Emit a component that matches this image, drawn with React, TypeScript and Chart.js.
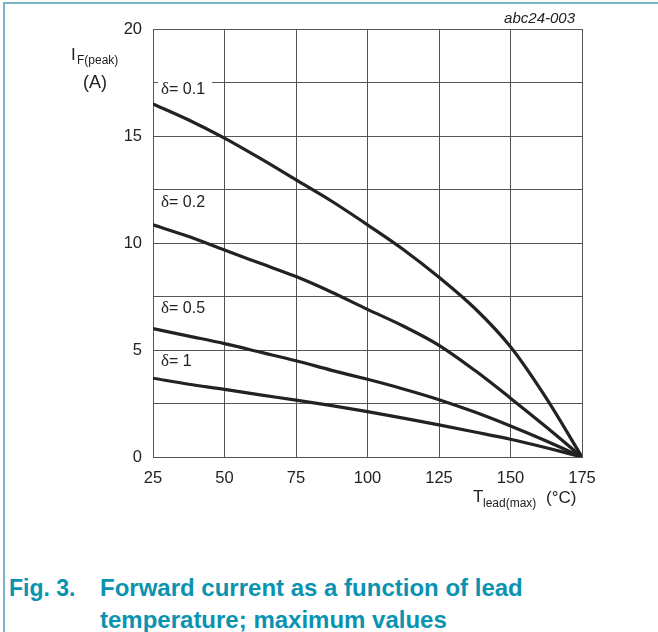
import React, { useEffect, useRef } from "react";
import { Chart, registerables } from "chart.js";

Chart.register(...registerables);

const temps = [25, 37.5, 50, 62.5, 75, 87.5, 100, 112.5, 125, 137.5, 150, 162.5, 175];
const delta01 = [16.5, 15.75, 14.9, 13.95, 12.95, 11.95, 10.85, 9.7, 8.4, 6.95, 5.15, 2.75, 0];
const delta02 = [10.85, 10.3, 9.67, 9.05, 8.43, 7.7, 6.9, 6.12, 5.22, 4.05, 2.75, 1.4, 0];
const delta05 = [6.0, 5.65, 5.3, 4.9, 4.5, 4.05, 3.63, 3.18, 2.68, 2.1, 1.45, 0.75, 0];
const delta1 = [3.68, 3.4, 3.16, 2.9, 2.66, 2.4, 2.12, 1.82, 1.5, 1.17, 0.83, 0.43, 0];

const seriesLabels = ["δ= 0.1", "δ= 0.2", "δ= 0.5", "δ= 1"];
const labelAnchorY = [17.2, 11.95, 7.0, 4.5];
const labelAnchorX = 25;

const xTicks = [25, 50, 75, 100, 125, 150, 175];
const yTicks = [0, 5, 10, 15, 20];

const FONT = '"Liberation Sans", Arial, Helvetica, sans-serif';
const SERIF = '"Liberation Serif", "Times New Roman", serif';
const TEXT = "#222";

const overlayPlugin = {
  id: "overlayText",
  afterDraw(chart: any) {
    const ctx = chart.ctx;
    const xs = chart.scales.x;
    const ys = chart.scales.y;
    ctx.save();
    ctx.fillStyle = TEXT;
    ctx.textBaseline = "alphabetic";

    // y axis title
    ctx.textAlign = "left";
    ctx.font = `17px ${FONT}`;
    ctx.fillText("I", 71, 60);
    ctx.font = `12px ${FONT}`;
    ctx.fillText("F(peak)", 77, 64);
    ctx.font = `18px ${FONT}`;
    ctx.textAlign = "center";
    ctx.fillText("(A)", 95, 88);

    // x axis title
    ctx.textAlign = "left";
    ctx.font = `17px ${FONT}`;
    ctx.fillText("T", 473, 502);
    ctx.font = `12px ${FONT}`;
    ctx.fillText("lead(max)", 483, 507);
    ctx.font = `17px ${FONT}`;
    ctx.fillText("(°C)", 546, 503);

    // figure id
    ctx.textAlign = "right";
    ctx.font = `italic 15px ${FONT}`;
    ctx.fillText("abc24-003", 575, 23);

    // series labels
    seriesLabels.forEach((lab, i) => {
      const px = xs.getPixelForValue(labelAnchorX) + 8;
      const py = ys.getPixelForValue(labelAnchorY[i]);
      const head = lab.charAt(0);
      const rest = lab.slice(1);
      ctx.font = `17px ${SERIF}`;
      const wHead = ctx.measureText(head).width;
      ctx.font = `16px ${FONT}`;
      const wRest = ctx.measureText(rest).width;
      if (i === 0) {
        ctx.fillStyle = "#fff";
        ctx.fillRect(px - 3, py - 9, wHead + wRest + 10, 17);
        ctx.fillStyle = TEXT;
      }
      ctx.textAlign = "left";
      ctx.textBaseline = "middle";
      ctx.font = `17px ${SERIF}`;
      ctx.fillText(head, px, py + 1);
      ctx.font = `16px ${FONT}`;
      ctx.fillText(rest, px + wHead, py + 1);
    });
    ctx.restore();
  },
};

export default function App() {
  const ref = useRef<HTMLCanvasElement>(null);
  useEffect(() => {
    if (!ref.current) return;
    const mk = (vals: number[]) => temps.map((t, i) => ({ x: t, y: vals[i] }));
    const ds = (vals: number[], label: string) => ({
      label,
      data: mk(vals),
      borderColor: "#222",
      borderWidth: 3.2,
      pointRadius: 0,
      tension: 0.4,
      cubicInterpolationMode: "monotone" as const,
      fill: false,
    });
    const chart = new Chart(ref.current, {
      type: "line",
      data: {
        datasets: [
          ds(delta01, seriesLabels[0]),
          ds(delta02, seriesLabels[1]),
          ds(delta05, seriesLabels[2]),
          ds(delta1, seriesLabels[3]),
        ],
      },
      options: {
        responsive: false,
        animation: false,
        devicePixelRatio: 1,
        layout: { padding: { left: 0, top: 29, right: 76, bottom: 0 } },
        plugins: { legend: { display: false }, tooltip: { enabled: false } },
        scales: {
          x: {
            type: "linear",
            min: 25,
            max: 175,
            afterFit: (s: any) => {
              s.height = 83;
            },
            afterBuildTicks: (s: any) => {
              s.ticks = xTicks.map((v) => ({ value: v }));
            },
            ticks: {
              color: TEXT,
              font: { family: FONT, size: 16.5 },
              padding: 12,
              maxRotation: 0,
              autoSkip: false,
            },
            grid: { color: "#555", lineWidth: 1, drawTicks: false },
            border: { color: "#555", width: 1 },
          },
          y: {
            type: "linear",
            min: 0,
            max: 20,
            afterFit: (s: any) => {
              s.width = 153;
            },
            afterBuildTicks: (s: any) => {
              const t: any[] = [];
              for (let v = 0; v <= 20; v += 2.5) t.push({ value: v });
              s.ticks = t;
            },
            ticks: {
              color: TEXT,
              font: { family: FONT, size: 16.5 },
              padding: 11,
              autoSkip: false,
              callback: (v: any) => (yTicks.includes(Number(v)) ? String(v) : ""),
            },
            grid: { color: "#555", lineWidth: 1, drawTicks: false },
            border: { color: "#555", width: 1 },
          },
        },
      },
      plugins: [overlayPlugin],
    });
    return () => chart.destroy();
  }, []);

  const capStyle: React.CSSProperties = {
    position: "absolute",
    fontFamily: FONT,
    fontWeight: "bold",
    fontSize: 24,
    lineHeight: "32px",
    color: "#0a93b1",
    whiteSpace: "nowrap",
  };

  return (
    <div style={{ position: "absolute", left: 0, top: 0, width: 658, height: 632, background: "#fff", overflow: "hidden" }}>
      <div style={{ position: "absolute", left: 3, top: 2, width: 655, height: 2, background: "#7ab4c7" }} />
      <div style={{ position: "absolute", left: 3, top: 2, width: 2, height: 630, background: "#7ab4c7" }} />
      <canvas ref={ref} width={658} height={540} style={{ position: "absolute", left: 0, top: 0, width: 658, height: 540 }} />
      <div style={{ ...capStyle, left: 9, top: 572, fontSize: 23 }}>Fig. 3.</div>
      <div style={{ ...capStyle, left: 100, top: 572 }}>Forward current as a function of lead</div>
      <div style={{ ...capStyle, left: 100, top: 604 }}>temperature; maximum values</div>
    </div>
  );
}
